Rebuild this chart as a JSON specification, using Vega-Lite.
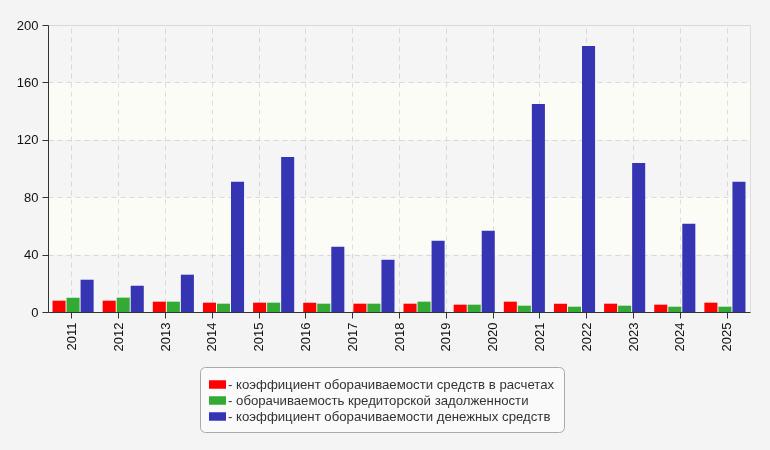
{
  "$schema": "https://vega.github.io/schema/vega-lite/v6.json",
  "width": 702,
  "height": 287,
  "autosize": {"type": "none"},
  "padding": {"left": 48, "top": 25, "right": 20, "bottom": 138},
  "background": "#f4f4f4",
  "config": {
    "font": "Liberation Sans",
    "view": {"fill": "#fcfcf6", "stroke": "#dddddd"},
    "axis": {
      "labelFont": "Liberation Sans",
      "labelFontSize": 13,
      "labelColor": "#111111",
      "domainColor": "#333333",
      "tickColor": "#333333",
      "tickSize": 6,
      "gridColor": "#dddddd",
      "gridDash": [5, 4],
      "title": null
    }
  },
  "datasets": {
    "bars": [
      {"g": "1", "s": "к1", "v": 7.9}, {"g": "1", "s": "к2", "v": 10.0}, {"g": "1", "s": "к3", "v": 22.5},
      {"g": "2", "s": "к1", "v": 7.9}, {"g": "2", "s": "к2", "v": 10.0}, {"g": "2", "s": "к3", "v": 18.3},
      {"g": "3", "s": "к1", "v": 7.2}, {"g": "3", "s": "к2", "v": 7.2}, {"g": "3", "s": "к3", "v": 26.0},
      {"g": "4", "s": "к1", "v": 6.5}, {"g": "4", "s": "к2", "v": 5.8}, {"g": "4", "s": "к3", "v": 90.7},
      {"g": "5", "s": "к1", "v": 6.5}, {"g": "5", "s": "к2", "v": 6.5}, {"g": "5", "s": "к3", "v": 108.1},
      {"g": "6", "s": "к1", "v": 6.5}, {"g": "6", "s": "к2", "v": 5.8}, {"g": "6", "s": "к3", "v": 45.5},
      {"g": "7", "s": "к1", "v": 5.8}, {"g": "7", "s": "к2", "v": 5.8}, {"g": "7", "s": "к3", "v": 36.4},
      {"g": "8", "s": "к1", "v": 5.8}, {"g": "8", "s": "к2", "v": 7.2}, {"g": "8", "s": "к3", "v": 49.7},
      {"g": "9", "s": "к1", "v": 5.1}, {"g": "9", "s": "к2", "v": 5.1}, {"g": "9", "s": "к3", "v": 56.6},
      {"g": "10", "s": "к1", "v": 7.2}, {"g": "10", "s": "к2", "v": 4.4}, {"g": "10", "s": "к3", "v": 145.0},
      {"g": "11", "s": "к1", "v": 5.8}, {"g": "11", "s": "к2", "v": 3.7}, {"g": "11", "s": "к3", "v": 185.4},
      {"g": "12", "s": "к1", "v": 5.8}, {"g": "12", "s": "к2", "v": 4.4}, {"g": "12", "s": "к3", "v": 103.9},
      {"g": "13", "s": "к1", "v": 5.1}, {"g": "13", "s": "к2", "v": 3.7}, {"g": "13", "s": "к3", "v": 61.5},
      {"g": "14", "s": "к1", "v": 6.5}, {"g": "14", "s": "к2", "v": 3.7}, {"g": "14", "s": "к3", "v": 90.7}
    ],
    "years": [
      {"year": "2011"}, {"year": "2012"}, {"year": "2013"}, {"year": "2014"}, {"year": "2015"},
      {"year": "2016"}, {"year": "2017"}, {"year": "2018"}, {"year": "2019"}, {"year": "2020"},
      {"year": "2021"}, {"year": "2022"}, {"year": "2023"}, {"year": "2024"}, {"year": "2025"}
    ],
    "bands": [
      {"lo": 0, "hi": 40},
      {"lo": 80, "hi": 120},
      {"lo": 160, "hi": 200}
    ]
  },
  "layer": [
    {
      "data": {"name": "bands"},
      "mark": {"type": "rect", "color": "#f8f8fe", "blend": "multiply"},
      "encoding": {
        "y": {"field": "lo", "type": "quantitative", "scale": {"domain": [0, 200]}},
        "y2": {"field": "hi"}
      }
    },
    {
      "data": {"name": "years"},
      "mark": {"type": "point", "opacity": 0},
      "encoding": {
        "x": {
          "field": "year",
          "type": "ordinal",
          "scale": {"type": "point", "padding": 0.5},
          "axis": {"orient": "bottom", "labelAngle": -90, "grid": true, "labelPadding": 4}
        }
      }
    },
    {
      "data": {"name": "bars"},
      "mark": {"type": "bar"},
      "encoding": {
        "x": {
          "field": "g",
          "type": "ordinal",
          "sort": null,
          "scale": {"paddingInner": 0.18, "paddingOuter": 0.09},
          "axis": null
        },
        "xOffset": {
          "field": "s",
          "type": "nominal",
          "scale": {"paddingInner": 0.07}
        },
        "y": {
          "field": "v",
          "type": "quantitative",
          "scale": {"domain": [0, 200]},
          "axis": {"values": [0, 40, 80, 120, 160, 200], "grid": true, "labelPadding": 4}
        },
        "color": {
          "field": "s",
          "type": "nominal",
          "scale": {"domain": ["к1", "к2", "к3"], "range": ["#ff0000", "#33aa33", "#3535b4"]},
          "legend": {
            "orient": "none",
            "legendX": 152,
            "legendY": 342,
            "direction": "vertical",
            "title": null,
            "labelExpr": "datum.value == 'к1' ? '- коэффициент оборачиваемости средств в расчетах' : datum.value == 'к2' ? '- оборачиваемость кредиторской задолженности' : '- коэффициент оборачиваемости денежных средств'",
            "labelFont": "Liberation Sans",
            "labelFontSize": 13.2,
            "labelColor": "#333333",
            "labelOffset": 2,
            "labelLimit": 500,
            "symbolType": "M-1,-0.5H1V0.5H-1Z",
            "symbolSize": 289,
            "symbolStrokeWidth": 0,
            "rowPadding": 1,
            "fillColor": "#fafafa",
            "strokeColor": "#aaaaaa",
            "cornerRadius": 5,
            "padding": 9
          }
        }
      }
    }
  ],
  "resolve": {"scale": {"x": "independent"}, "axis": {"x": "independent"}}
}
